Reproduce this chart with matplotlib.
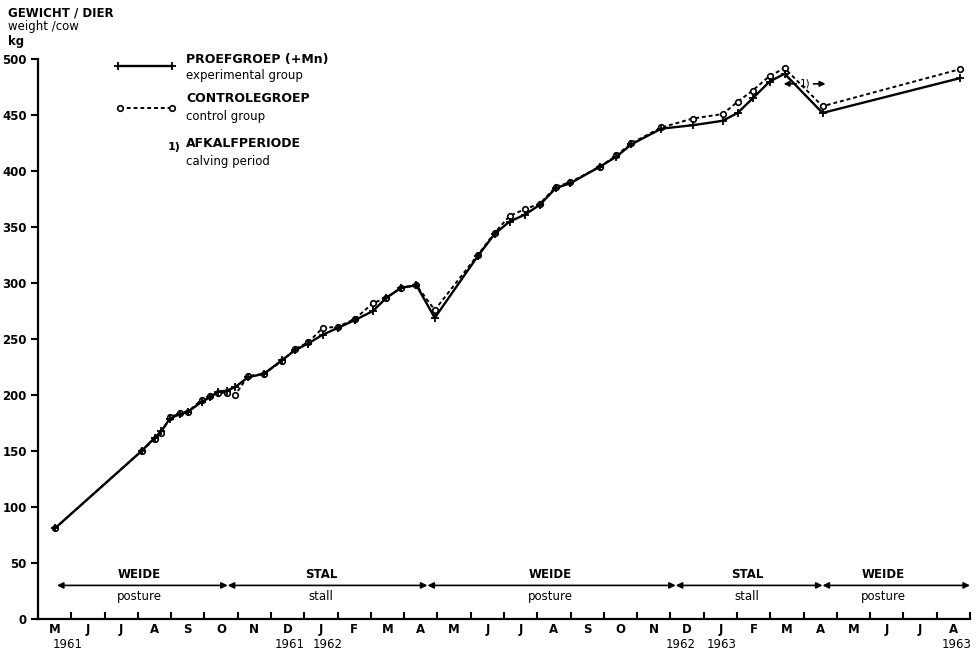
import matplotlib
matplotlib.use("Agg")
import matplotlib.pyplot as plt
from matplotlib.lines import Line2D

# ---- data (months since 1 May 1961) ----
months = [0.51, 3.11, 3.51, 3.71, 3.96, 4.26, 4.50, 4.92, 5.17, 5.41, 5.67, 5.92,
          6.31, 6.79, 7.32, 7.72, 8.11, 8.56, 9.01, 9.52, 10.06, 10.47, 10.92, 11.37,
          11.92, 13.21, 13.72, 14.17, 14.62, 15.08, 15.56, 15.98, 16.88, 17.38, 17.83,
          18.73, 19.67, 20.57, 21.02, 21.47, 21.98, 22.43, 23.57, 27.69]
experimental = [81, 150, 162, 168, 179, 183, 185, 194, 198, 203, 204, 207,
                216, 219, 231, 240, 246, 254, 260, 267, 275, 287, 296, 298,
                269, 324, 344, 355, 361, 370, 385, 389, 404, 413, 424,
                438, 441, 445, 452, 465, 480, 487, 452, 483]
control = [81, 150, 161, 166, 180, 184, 185, 196, 199, 202, 202, 200,
           217, 219, 230, 241, 247, 260, 261, 268, 282, 287, 296, 298,
           276, 325, 345, 360, 366, 371, 386, 390, 404, 414, 425,
           439, 447, 451, 462, 472, 485, 492, 458, 491]

month_labels = ["M", "J", "J", "A", "S", "O", "N", "D",
                "J", "F", "M", "A", "M", "J", "J", "A", "S", "O", "N", "D",
                "J", "F", "M", "A", "M", "J", "J", "A"]
year_labels = ["1961", "1961", "1962", "1962", "1963", "1963"]
year_label_x = [0.88, 7.55, 8.7, 19.3, 20.55, 27.6]

period_bounds = [0.57, 5.7, 11.7, 19.16, 23.57, 28.0]
period_top = ["WEIDE", "STAL", "WEIDE", "STAL", "WEIDE"]
period_bottom = ["posture", "stall", "posture", "stall", "posture"]
period_label_x = [3.05, 8.5, 15.4, 21.3, 25.4]
period_level = 30

yticks = list(range(0, 501, 50))

# ---- figure ----
plt.rcParams['font.family'] = ['DejaVu Sans']
fig = plt.figure(figsize=(9.79, 6.54), dpi=100)
ax = fig.add_axes([0.0388, 0.0535, 0.952, 0.856])

ax.plot(months, experimental, color='black', lw=1.7, marker='+', ms=6, mew=1.3, zorder=3)
ax.plot(months, control, color='black', lw=1.4, ls=(0, (2, 1.5)), marker='o', ms=4,
        mfc='white', mec='black', mew=1.2, zorder=2)

ax.set_xlim(0, 28)
ax.set_ylim(0, 500)
for s in ['top', 'right']:
    ax.spines[s].set_visible(False)
for s in ['left', 'bottom']:
    ax.spines[s].set_linewidth(1.6)

ax.set_yticks(yticks)
ax.set_yticklabels([str(v) for v in yticks], fontsize=8.5, fontweight='bold')
ax.tick_params(axis='y', direction='out', length=5, width=1.5, pad=3)

ax.set_xticks(list(range(0, 29)))
ax.set_xticklabels([])
ax.tick_params(axis='x', which='major', direction='in', length=5, width=1.5)
ax.set_xticks([i + 0.5 for i in range(28)], minor=True)
ax.set_xticklabels(month_labels, minor=True, fontsize=8.5, fontweight='bold')
ax.tick_params(axis='x', which='minor', length=0, pad=3)

xtr = ax.get_xaxis_transform()
for yl, yx in zip(year_labels, year_label_x):
    ax.text(yx, -0.045, yl, transform=xtr, ha='center', va='center', fontsize=8.5)

# period arrows
for i in range(len(period_top)):
    a, b = period_bounds[i], period_bounds[i + 1]
    ax.annotate('', xy=(a, period_level), xytext=(b, period_level),
                arrowprops=dict(arrowstyle='<|-|>', lw=1.2, color='black',
                                mutation_scale=9, shrinkA=0, shrinkB=0))
    ax.text(period_label_x[i], period_level + 4, period_top[i], ha='center', va='bottom',
            fontsize=8.5, fontweight='bold')
    ax.text(period_label_x[i], period_level - 4, period_bottom[i], ha='center', va='top',
            fontsize=8.5)

# calving period marker
ax.annotate('', xy=(22.4, 478), xytext=(22.78, 478),
            arrowprops=dict(arrowstyle='-|>', lw=1.2, color='black', mutation_scale=8,
                            shrinkA=0, shrinkB=0))
ax.annotate('', xy=(23.66, 478), xytext=(23.3, 478),
            arrowprops=dict(arrowstyle='-|>', lw=1.2, color='black', mutation_scale=8,
                            shrinkA=0, shrinkB=0))
ax.text(23.04, 478, "1)", ha='center', va='center', fontsize=7.5)

# legend (custom)
tr = ax.transAxes
ax.add_line(Line2D([0.086, 0.144], [0.9875, 0.9875], transform=tr, color='black', lw=1.7,
                   marker='+', ms=6, mew=1.3, clip_on=False))
ax.add_line(Line2D([0.088, 0.144], [0.912, 0.912], transform=tr, color='black', lw=1.4,
                   ls=(0, (2, 1.5)), marker='o', ms=4, mfc='white', mew=1.2, clip_on=False))
ax.text(0.159, 1.0, "PROEFGROEP (+Mn)", transform=tr, fontsize=9, fontweight='bold', va='center')
ax.text(0.159, 0.970, "experimental group", transform=tr, fontsize=8.5, va='center')
ax.text(0.159, 0.929, "CONTROLEGROEP", transform=tr, fontsize=9, fontweight='bold', va='center')
ax.text(0.159, 0.898, "control group", transform=tr, fontsize=8.5, va='center')
ax.text(0.139, 0.843, "1)", transform=tr, fontsize=8, fontweight='bold', va='center')
ax.text(0.159, 0.849, "AFKALFPERIODE", transform=tr, fontsize=9, fontweight='bold', va='center')
ax.text(0.159, 0.818, "calving period", transform=tr, fontsize=8.5, va='center')

# y axis header
fig.text(0.008, 0.980, "GEWICHT / DIER", fontsize=8.5, fontweight='bold', va='center')
fig.text(0.008, 0.959, "weight /cow", fontsize=8.5, va='center')
fig.text(0.008, 0.937, "kg", fontsize=8.5, fontweight='bold', va='center')

fig.savefig("out.png", dpi=100)
